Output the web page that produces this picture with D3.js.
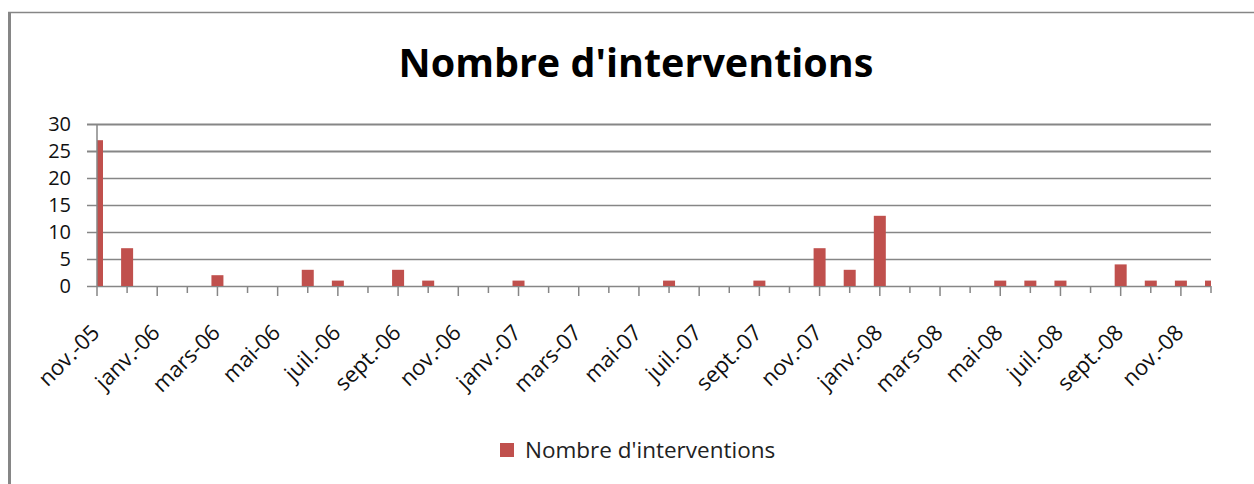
<!DOCTYPE html>
<meta charset="utf-8">
<script src="https://d3js.org/d3.v7.min.js"></script>
<style>
  body { margin: 0; background: #fff; }
  text { font-family: "Open Sans", sans-serif; }
</style>
<div id="chart"></div>
<script>

    var months = ["nov.-05", "déc.-05",
        "janv.-06", "févr.-06", "mars-06", "avr.-06", "mai-06", "juin-06",
        "juil.-06", "août-06", "sept.-06", "oct.-06", "nov.-06", "déc.-06",
        "janv.-07", "févr.-07", "mars-07", "avr.-07", "mai-07", "juin-07",
        "juil.-07", "août-07", "sept.-07", "oct.-07", "nov.-07", "déc.-07",
        "janv.-08", "févr.-08", "mars-08", "avr.-08", "mai-08", "juin-08",
        "juil.-08", "août-08", "sept.-08", "oct.-08", "nov.-08", "déc.-08"];

    var values = [27, 7,
        0, 0, 2, 0, 0, 3,
        1, 0, 3, 1, 0, 0,
        1, 0, 0, 0, 0, 1,
        0, 0, 1, 0, 7, 3,
        13, 0, 0, 0, 1, 1,
        1, 0, 4, 1, 1, 1];

    var yTicks = [0, 5, 10, 15, 20, 25, 30];
    var seriesName = "Nombre d'interventions";

    var width = 1254, height = 484;
    var margin = {top: 124, right: 43, bottom: 198, left: 97};

    var svg = d3.select("#chart")
      .append("svg")
        .attr("width", width)
        .attr("height", height);

    // cadre du graphique
    svg.append("line")
        .attr("x1", 8).attr("x2", width).attr("y1", 12.5).attr("y2", 12.5)
        .attr("stroke", "#868686").attr("stroke-width", 1.5);
    svg.append("line")
        .attr("x1", 9.5).attr("x2", 9.5).attr("y1", 12).attr("y2", height)
        .attr("stroke", "#868686").attr("stroke-width", 3);

    svg.append("text")
        .attr("x", 636)
        .attr("y", 77)
        .attr("text-anchor", "middle")
        .style("font-size", "39.5px")
        .style("font-weight", "bold")
        .text(seriesName);

    var x = d3.scalePoint()
        .domain(months)
        .range([margin.left, width - margin.right]);

    var y = d3.scaleLinear()
        .domain([0, 30])
        .range([height - margin.bottom, margin.top]);

    // grille
    svg.append("g")
      .selectAll("line")
      .data(yTicks)
      .enter()
      .append("line")
        .attr("x1", margin.left - 10)
        .attr("x2", width - margin.right)
        .attr("y1", function(d) { return Math.round(y(d)) + 0.5; })
        .attr("y2", function(d) { return Math.round(y(d)) + 0.5; })
        .attr("stroke", "#868686")
        .attr("stroke-width", function(d) { return d >= 25 ? 2 : 1.5; });

    svg.append("g")
      .selectAll("text")
      .data(yTicks)
      .enter()
      .append("text")
        .attr("x", 71)
        .attr("y", function(d) { return y(d); })
        .attr("dy", "0.35em")
        .attr("text-anchor", "end")
        .style("font-size", "20px")
        .style("fill", "#111")
        .text(function(d) { return d; });

    svg.append("clipPath")
        .attr("id", "plot")
      .append("rect")
        .attr("x", margin.left)
        .attr("y", 0)
        .attr("width", width - margin.right - margin.left)
        .attr("height", height);

    var barW = 12;
    svg.append("g")
        .attr("clip-path", "url(#plot)")
      .selectAll("rect")
      .data(values)
      .enter()
      .append("rect")
        .attr("x", function(d, i) { return x(months[i]) - barW / 2; })
        .attr("y", function(d) { return y(d); })
        .attr("width", barW)
        .attr("height", function(d) { return y(0) - y(d); })
        .style("fill", "#C0504D");

    // axes
    svg.append("line")
        .attr("x1", margin.left).attr("x2", margin.left)
        .attr("y1", y(30)).attr("y2", y(0))
        .attr("stroke", "#868686").attr("stroke-width", 1.5);

    svg.append("g")
      .selectAll("line")
      .data(months)
      .enter()
      .append("line")
        .attr("x1", function(d) { return x(d); })
        .attr("x2", function(d) { return x(d); })
        .attr("y1", y(0))
        .attr("y2", function(d, i) { return y(0) + (i % 2 === 0 ? 10 : 7); })
        .attr("stroke", "#868686")
        .attr("stroke-width", 1.5);

    svg.append("g")
      .selectAll("text")
      .data(months.filter(function(d, i) { return i % 2 === 0; }))
      .enter()
      .append("text")
        .attr("text-anchor", "end")
        .attr("transform", function(d) {
            return "translate(" + (x(d) + 4) + "," + 334 + ") rotate(-45)";
        })
        .style("font-size", "22px")
        .style("fill", "#111")
        .text(function(d) { return d; });

    // légende
    svg.append("rect")
        .attr("x", 500)
        .attr("y", 443)
        .attr("width", 14)
        .attr("height", 14)
        .style("fill", "#C0504D");

    svg.append("text")
        .attr("x", 525)
        .attr("y", 458)
        .style("font-size", "22.5px")
        .style("fill", "#222")
        .text(seriesName);

</script>
